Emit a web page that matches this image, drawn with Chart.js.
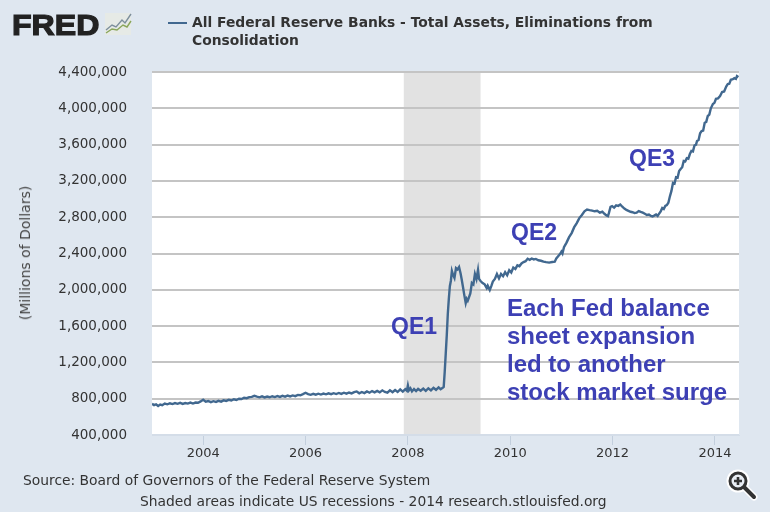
<!DOCTYPE html>
<html>
<head>
<meta charset="utf-8">
<title>All Federal Reserve Banks - Total Assets</title>
<script src="https://cdn.jsdelivr.net/npm/chart.js@4"></script>
<style>
  html, body { margin: 0; padding: 0; }
  body { width: 770px; height: 512px; background: #dfe7f0; overflow: hidden; position: relative; font-family: "DejaVu Sans", sans-serif; }
  #balanceChart { position: absolute; left: 0; top: 0; }
  .label { position: absolute; white-space: nowrap; }
  .note { color: #3d40b4; font: bold 23px/28px "Liberation Sans", sans-serif; }
  #logoText { left: 12px; top: 5px; font: 900 30px/40px "Liberation Sans", sans-serif; color: #222; -webkit-text-stroke: 1.2px #222; transform: scaleX(1.07); transform-origin: left center; }
  #legendKey { position: absolute; left: 168px; top: 22px; width: 19px; height: 2px; background: #41688f; }
  #legendText { left: 192px; top: 14px; font: bold 13.85px/17.5px "DejaVu Sans", sans-serif; color: #333; }
  #yTitle { left: 25px; top: 253px; font-size: 14px; line-height: 16px; color: #444; transform: translate(-50%, -50%) rotate(-90deg); }
  #source { left: 23px; top: 471px; font-size: 13.85px; line-height: 18px; color: #333; }
  #footer { left: 140px; top: 492px; font-size: 13.85px; line-height: 18px; color: #333; }
  svg { position: absolute; }
</style>
</head>
<body>
<canvas id="balanceChart" width="770" height="512"></canvas>

<div class="label" id="logoText">FRED</div>
<svg style="left:105px;top:13px" width="27" height="22" viewBox="0 0 27 22">
  <rect width="26" height="22" fill="#e6eae6"/>
  <polyline points="1,17 7,12 11,14 17,7 20,10 26,1" fill="none" stroke="#7d8f9c" stroke-width="1.4"/>
  <polyline points="1,20 7,16 12,17 18,12 22,14 26,8" fill="none" stroke="#8aa65a" stroke-width="1.4"/>
</svg>
<div id="legendKey"></div>
<div class="label" id="legendText">All Federal Reserve Banks - Total Assets, Eliminations from<br>Consolidation</div>
<div class="label" id="yTitle">(Millions of Dollars)</div>
<div class="label note" style="left:391px;top:312px">QE1</div>
<div class="label note" style="left:511px;top:218px">QE2</div>
<div class="label note" style="left:629px;top:144px">QE3</div>
<div class="label note" style="left:507px;top:294px;font-size:24px">Each Fed balance<br>sheet expansion<br>led to another<br>stock market surge</div>
<div class="label" id="source">Source: Board of Governors of the Federal Reserve System</div>
<div class="label" id="footer">Shaded areas indicate US recessions - 2014 research.stlouisfed.org</div>
<svg style="left:726px;top:468px" width="34" height="34" viewBox="0 0 34 34">
  <line x1="18" y1="19" x2="28" y2="29" stroke="#fff" stroke-width="7" stroke-linecap="round"/>
  <circle cx="12" cy="13" r="9" fill="#e8edf3" stroke="#fff" stroke-width="5"/>
  <line x1="18" y1="19" x2="28" y2="29" stroke="#333" stroke-width="4" stroke-linecap="round"/>
  <circle cx="12" cy="13" r="8" fill="#e8edf3" stroke="#333" stroke-width="3"/>
  <path d="M12 9v8M8 13h8" stroke="#333" stroke-width="2.6"/>
</svg>

<script>
const xTickYears = [2004, 2006, 2008, 2010, 2012, 2014];
const recessionStart = 2007.92;
const recessionEnd = 2009.42;

const years = [
  2003.00, 2003.04, 2003.08, 2003.12, 2003.16, 2003.20, 2003.25, 2003.30, 2003.35, 2003.40,
  2003.45, 2003.50, 2003.55, 2003.60, 2003.65, 2003.70, 2003.75, 2003.80, 2003.85, 2003.90,
  2003.95, 2004.00, 2004.05, 2004.10, 2004.15, 2004.20, 2004.25, 2004.30, 2004.35, 2004.40,
  2004.45, 2004.50, 2004.55, 2004.60, 2004.65, 2004.70, 2004.75, 2004.80, 2004.85, 2004.90,
  2004.95, 2005.00, 2005.05, 2005.10, 2005.15, 2005.20, 2005.25, 2005.30, 2005.35, 2005.40,
  2005.45, 2005.50, 2005.55, 2005.60, 2005.65, 2005.70, 2005.75, 2005.80, 2005.85, 2005.90,
  2005.95, 2006.00, 2006.05, 2006.10, 2006.15, 2006.20, 2006.25, 2006.30, 2006.35, 2006.40,
  2006.45, 2006.50, 2006.55, 2006.60, 2006.65, 2006.70, 2006.75, 2006.80, 2006.85, 2006.90,
  2006.95, 2007.00, 2007.05, 2007.10, 2007.15, 2007.20, 2007.25, 2007.30, 2007.35, 2007.40,
  2007.45, 2007.50, 2007.55, 2007.60, 2007.65, 2007.70, 2007.75, 2007.80, 2007.85, 2007.90,
  2007.95, 2007.98, 2008.00, 2008.02, 2008.05, 2008.08, 2008.12, 2008.16, 2008.20, 2008.25,
  2008.30, 2008.35, 2008.40, 2008.45, 2008.50, 2008.55, 2008.60, 2008.64, 2008.68, 2008.70,
  2008.72, 2008.74, 2008.76, 2008.78, 2008.80, 2008.82, 2008.84, 2008.86, 2008.88, 2008.91,
  2008.94, 2008.97, 2009.00, 2009.03, 2009.05, 2009.08, 2009.10, 2009.13, 2009.15, 2009.17,
  2009.19, 2009.22, 2009.25, 2009.28, 2009.31, 2009.34, 2009.37, 2009.39, 2009.42, 2009.46,
  2009.50, 2009.54, 2009.56, 2009.60, 2009.63, 2009.66, 2009.70, 2009.74, 2009.78, 2009.82,
  2009.86, 2009.90, 2009.94, 2009.98, 2010.02, 2010.06, 2010.10, 2010.14, 2010.18, 2010.22,
  2010.26, 2010.30, 2010.34, 2010.38, 2010.42, 2010.46, 2010.50, 2010.55, 2010.60, 2010.65,
  2010.70, 2010.76, 2010.82, 2010.87, 2010.90, 2010.94, 2010.98, 2011.00, 2011.02, 2011.05,
  2011.10, 2011.15, 2011.20, 2011.25, 2011.30, 2011.35, 2011.40, 2011.45, 2011.50, 2011.55,
  2011.60, 2011.65, 2011.70, 2011.75, 2011.80, 2011.84, 2011.88, 2011.91, 2011.93, 2011.96,
  2011.99, 2012.03, 2012.07, 2012.11, 2012.15, 2012.19, 2012.23, 2012.27, 2012.31, 2012.35,
  2012.39, 2012.43, 2012.47, 2012.51, 2012.55, 2012.59, 2012.63, 2012.67, 2012.71, 2012.75,
  2012.78, 2012.82, 2012.85, 2012.88, 2012.91, 2012.94, 2012.97, 2013.00, 2013.03, 2013.06,
  2013.09, 2013.12, 2013.15, 2013.18, 2013.21, 2013.24, 2013.27, 2013.30, 2013.33, 2013.36,
  2013.39, 2013.42, 2013.45, 2013.48, 2013.51, 2013.54, 2013.57, 2013.60, 2013.63, 2013.65,
  2013.68, 2013.71, 2013.74, 2013.77, 2013.80, 2013.83, 2013.86, 2013.89, 2013.92, 2013.96,
  2013.99, 2014.02, 2014.06, 2014.10, 2014.14, 2014.18, 2014.22, 2014.25, 2014.28, 2014.31,
  2014.35, 2014.38, 2014.41, 2014.43, 2014.46
];

const totalAssets = [
  745000, 730000, 738000, 720000, 735000, 728000, 746000, 738000, 750000, 741000,
  752000, 744000, 754000, 743000, 752000, 746000, 757000, 747000, 758000, 755000,
  770000, 788000, 768000, 775000, 762000, 773000, 765000, 776000, 768000, 782000,
  776000, 787000, 780000, 794000, 786000, 800000, 796000, 810000, 806000, 818000,
  820000, 832000, 822000, 815000, 826000, 814000, 824000, 816000, 827000, 818000,
  829000, 820000, 831000, 823000, 834000, 825000, 836000, 828000, 842000, 838000,
  850000, 865000, 850000, 843000, 853000, 844000, 855000, 846000, 856000, 848000,
  859000, 850000, 861000, 851000, 863000, 853000, 866000, 855000, 868000, 858000,
  872000, 880000, 860000, 874000, 862000, 880000, 866000, 884000, 870000, 886000,
  870000, 892000, 874000, 866000, 892000, 872000, 896000, 874000, 902000, 878000,
  905000, 888000, 945000, 892000, 915000, 880000, 906000, 884000, 908000, 888000,
  912000, 886000, 915000, 892000, 920000, 898000, 925000, 905000, 920000, 930000,
  1100000, 1300000, 1500000, 1733000, 1900000, 2040000, 2100000, 2207000, 2170000, 2130000,
  2240000, 2225000, 2251000, 2180000, 2119000, 2020000, 1950000, 1854000, 1900000, 1880000,
  1910000, 1960000, 2075000, 2060000, 2174000, 2119000, 2218000, 2120000, 2097000, 2075000,
  2060000, 2020000, 2045000, 1998000, 2040000, 2090000, 2119000, 2174000, 2125000, 2175000,
  2150000, 2195000, 2160000, 2215000, 2190000, 2245000, 2230000, 2270000, 2260000, 2290000,
  2305000, 2315000, 2342000, 2330000, 2345000, 2335000, 2340000, 2325000, 2320000, 2310000,
  2305000, 2300000, 2306000, 2310000, 2345000, 2372000, 2400000, 2420000, 2400000, 2470000,
  2520000, 2580000, 2625000, 2690000, 2735000, 2790000, 2825000, 2865000, 2885000, 2878000,
  2872000, 2865000, 2870000, 2850000, 2860000, 2838000, 2820000, 2813000, 2850000, 2915000,
  2923000, 2905000, 2930000, 2925000, 2940000, 2915000, 2895000, 2880000, 2870000, 2860000,
  2855000, 2846000, 2850000, 2868000, 2858000, 2850000, 2838000, 2825000, 2830000, 2813000,
  2808000, 2820000, 2830000, 2815000, 2840000, 2865000, 2901000, 2890000, 2925000, 2934000,
  2960000, 3030000, 3090000, 3177000, 3170000, 3240000, 3235000, 3310000, 3331000, 3350000,
  3420000, 3415000, 3450000, 3445000, 3496000, 3530000, 3525000, 3590000, 3600000, 3640000,
  3650000, 3725000, 3750000, 3755000, 3840000, 3850000, 3915000, 3930000, 4000000, 4047000,
  4060000, 4105000, 4110000, 4135000, 4180000, 4185000, 4240000, 4267000, 4270000, 4315000,
  4320000, 4333000, 4325000, 4355000, 4344000
];

// plot background and recession band go in under the grid lines
const plotBackdrop = {
  id: 'plotBackdrop',
  beforeDraw(chart) {
    const { ctx, chartArea: area, scales: { x } } = chart;
    ctx.save();
    ctx.fillStyle = '#ffffff';
    ctx.fillRect(area.left, area.top, area.right - area.left, area.bottom - area.top);
    ctx.fillStyle = '#e2e2e2';
    const left = x.getPixelForValue(recessionStart);
    const right = x.getPixelForValue(recessionEnd);
    ctx.fillRect(left, area.top, right - left, area.bottom - area.top);
    ctx.restore();
  }
};

const chart = new Chart(document.getElementById('balanceChart').getContext('2d'), {
  type: 'line',
  data: {
    labels: years,
    datasets: [{
      label: 'All Federal Reserve Banks - Total Assets, Eliminations from Consolidation',
      data: years.map((year, i) => ({ x: year, y: totalAssets[i] })),
      borderColor: '#41688f',
      borderWidth: 2.4,
      pointRadius: 0,
      tension: 0,
    }]
  },
  options: {
    responsive: false,
    animation: false,
    layout: { padding: { top: 72, right: 31, left: 0, bottom: 0 } },
    plugins: {
      legend: { display: false },
      tooltip: { enabled: false }
    },
    scales: {
      x: {
        type: 'linear',
        min: 2003,
        max: 2014.47,
        afterFit(scale) { scale.height = 77; },
        afterBuildTicks(scale) { scale.ticks = xTickYears.map(value => ({ value })); },
        grid: { drawOnChartArea: false, drawTicks: true, tickLength: 10, color: '#c3cfdd' },
        border: { color: '#d4dde8' },
        ticks: {
          autoSkip: false,
          maxRotation: 0,
          padding: 1,
          color: '#333333',
          font: { family: '"DejaVu Sans"', size: 13 },
          callback: value => String(value)
        }
      },
      y: {
        min: 400000,
        max: 4400000,
        afterFit(scale) { scale.width = 152; },
        grid: { drawTicks: false, lineWidth: 2, color: ctx => ctx.tick.value === 400000 ? '#d4dde8' : '#c4c4c4' },
        border: { display: false },
        ticks: {
          stepSize: 400000,
          padding: 25,
          color: '#333333',
          font: { family: '"DejaVu Sans"', size: 13.5 },
          callback: value => value.toLocaleString('en-US')
        }
      }
    }
  },
  plugins: [plotBackdrop]
});
</script>
</body>
</html>
